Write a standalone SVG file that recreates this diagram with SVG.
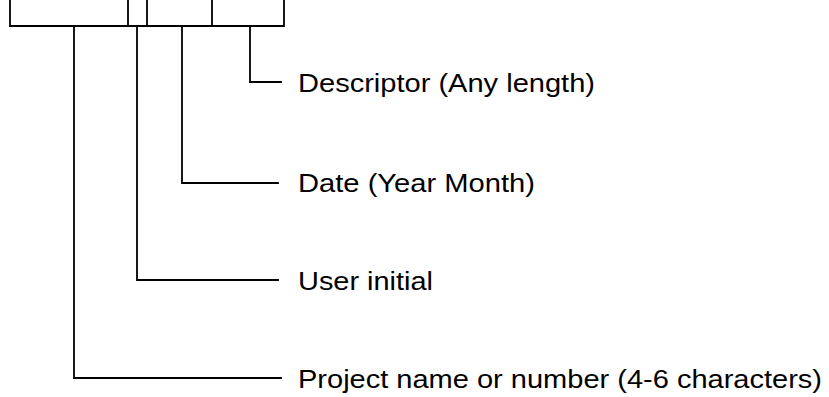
<svg xmlns="http://www.w3.org/2000/svg" width="829" height="397" viewBox="0 0 829 397">
  <style>
    .ln { fill: none; stroke: #000; stroke-width: 1.8; stroke-linecap: square; }
    .lbl { font-family: "Liberation Sans", Arial, sans-serif; font-size: 25.5px; fill: #000; }
  </style>
  <rect width="829" height="397" fill="#fff"/>
  <!-- bracket over the file name fields -->
  <g id="bracket">
    <path class="ln" d="M10,0 V26 H284 V0 M128,0 V26 M147,0 V26 M212,0 V26"/>
  </g>
  <g id="connectors">
    <path class="ln" d="M250,26 V82 H281"/>
    <path class="ln" d="M182,26 V183 H278"/>
    <path class="ln" d="M137,26 V280 H278"/>
    <path class="ln" d="M74,26 V378 H281"/>
  </g>
  <!-- labels are set slightly wide -->
  <g id="descriptor"><text class="lbl" x="298" y="91.5" textLength="297" lengthAdjust="spacingAndGlyphs">Descriptor (Any length)</text></g>
  <g id="date"><text class="lbl" x="298" y="191.5" textLength="237" lengthAdjust="spacingAndGlyphs">Date (Year Month)</text></g>
  <g id="user"><text class="lbl" x="298" y="289.5" textLength="135" lengthAdjust="spacingAndGlyphs">User initial</text></g>
  <g id="project"><text class="lbl" x="298" y="387.5" textLength="524" lengthAdjust="spacingAndGlyphs">Project name or number (4-6 characters)</text></g>
</svg>
